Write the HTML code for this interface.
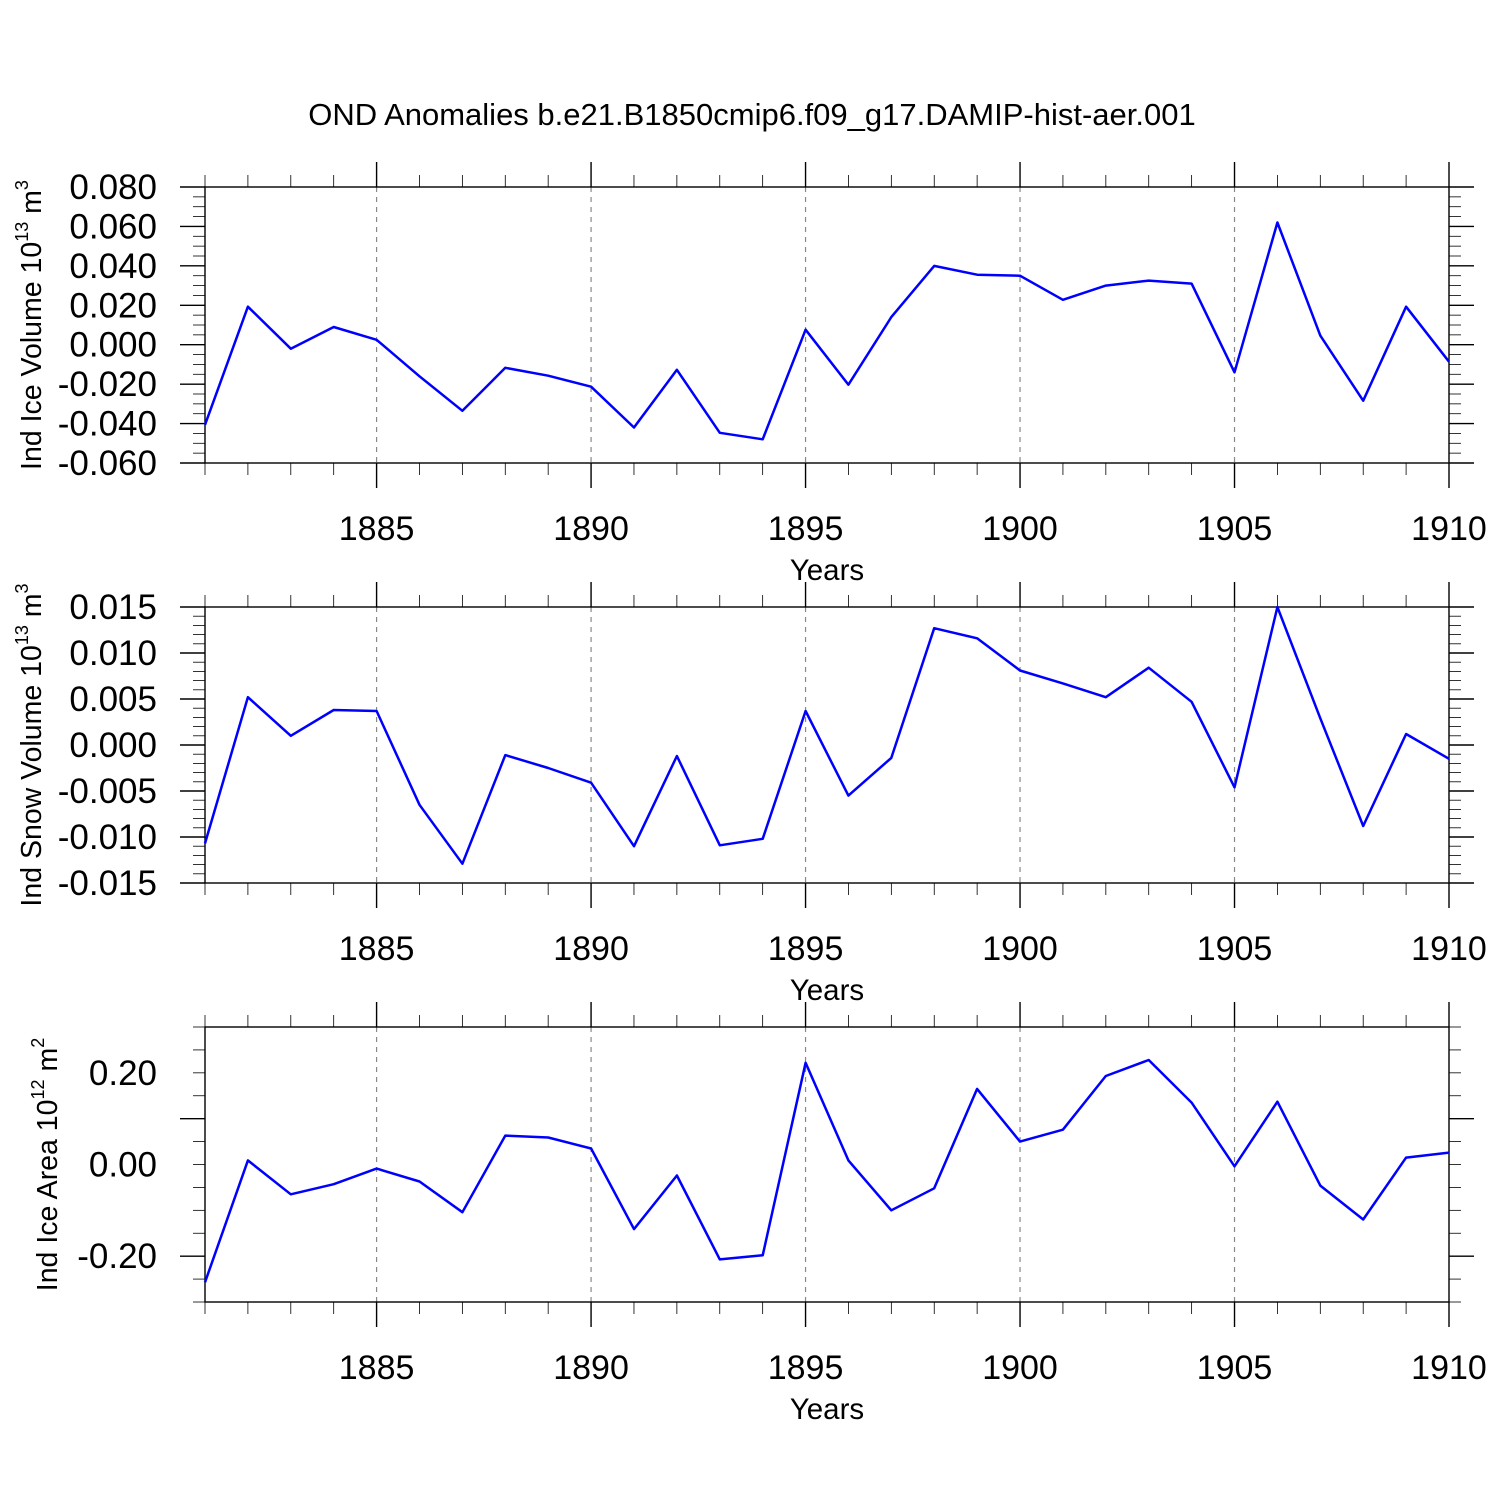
<!DOCTYPE html>
<html><head><meta charset="utf-8"><style>
body{margin:0;background:#fff}
svg{display:block;font-family:"Liberation Sans",Arial,sans-serif}
</style></head><body>
<svg id="c" width="1500" height="1500" viewBox="0 0 1500 1500" xmlns="http://www.w3.org/2000/svg">
<text x="752" y="125" font-size="31" text-anchor="middle">OND Anomalies b.e21.B1850cmip6.f09_g17.DAMIP-hist-aer.001</text>
</svg>
<script>
const years = [1881,1882,1883,1884,1885,1886,1887,1888,1889,1890,1891,1892,1893,1894,1895,1896,1897,1898,1899,1900,1901,1902,1903,1904,1905,1906,1907,1908,1909,1910];
const iceVolume = [-0.0406,0.0193,-0.002,0.009,0.0025,-0.016,-0.0335,-0.0117,-0.0157,-0.0213,-0.042,-0.0127,-0.0447,-0.048,0.0076,-0.0203,0.014,0.040,0.0355,0.035,0.0228,0.030,0.0325,0.031,-0.014,0.062,0.0046,-0.0284,0.0193,-0.0086];
const snowVolume = [-0.0107,0.0052,0.001,0.0038,0.0037,-0.0065,-0.0129,-0.0011,-0.0025,-0.0041,-0.011,-0.0012,-0.0109,-0.0102,0.0037,-0.0055,-0.0014,0.0127,0.0116,0.0081,0.0067,0.0052,0.0084,0.0047,-0.0046,0.015,0.0029,-0.0088,0.0012,-0.0015];
const iceArea = [-0.257,0.009,-0.065,-0.043,-0.009,-0.037,-0.104,0.063,0.059,0.035,-0.141,-0.024,-0.207,-0.198,0.222,0.009,-0.1,-0.052,0.165,0.05,0.076,0.193,0.228,0.135,-0.004,0.137,-0.046,-0.12,0.015,0.026];
const xTickYears = [1885,1890,1895,1900,1905,1910];
const iceVolTicks = ["0.080","0.060","0.040","0.020","0.000","-0.020","-0.040","-0.060"];
const snowVolTicks = ["0.015","0.010","0.005","0.000","-0.005","-0.010","-0.015"];
const iceAreaTicks = ["0.20","0.00","-0.20"];

const svg = document.getElementById('c');
const NS = 'http://www.w3.org/2000/svg';
function mk(tag, attrs, parent){const e=document.createElementNS(NS,tag);for(const k in attrs)e.setAttribute(k,attrs[k]);(parent||svg).appendChild(e);return e;}
const L=205,R=1449;
const xs = y => L + (y-1881)*(R-L)/(1910-1881);

function panel(name, top, bot, ymin, ymax, labels, minorStep, data, title, exp, unitExp, titleX){
  const g = mk('g',{});
  
  
  const ys = v => bot - (v-ymin)*(bot-top)/(ymax-ymin);
  xTickYears.forEach(y=>{ if(y<1910){ const l=mk('line',{x1:xs(y),x2:xs(y),y1:top,y2:bot,stroke:'#888','stroke-width':1.2,'stroke-dasharray':'5,5'},g);
    
    }});
  for(let y=1881;y<=1910;y++){
    const maj = y%5===0; const len = maj?25:12;
    mk('line',{x1:xs(y),x2:xs(y),y1:top-len,y2:top,stroke:'#000','stroke-width':maj?1.4:0.8},g);
    mk('line',{x1:xs(y),x2:xs(y),y1:bot,y2:bot+len,stroke:'#000','stroke-width':maj?1.4:0.8},g);
  }
  const nMin = Math.round((ymax-ymin)/minorStep);
  const majStep = (ymax-ymin)/(labels.length-1);
  const y0 = parseFloat(labels[labels.length-1]);
  for(let i=0;i<=nMin;i++){
    const v = ymin + i*minorStep;
    const rel = (v - y0)/majStep;
    const maj = Math.abs(rel-Math.round(rel))<1e-6;
    const len = maj?25:12;
    mk('line',{x1:L-len,x2:L,y1:ys(v),y2:ys(v),stroke:'#000','stroke-width':maj?1.4:0.8},g);
    mk('line',{x1:R,x2:R+len,y1:ys(v),y2:ys(v),stroke:'#000','stroke-width':maj?1.4:0.8},g);
  }
  labels.forEach(s=>{
    const t=mk('text',{x:157,y:ys(parseFloat(s))+12,'font-size':35,'text-anchor':'end'},g);
    t.textContent=s;
    
    
  });
  xTickYears.forEach(y=>{
    const t=mk('text',{x:xs(y),y:bot+77,'font-size':34,'text-anchor':'middle'},g);
    t.textContent=y;
    
    
  });
  const xt=mk('text',{x:827,y:bot+117,'font-size':29.5,'text-anchor':'middle'},g);
  xt.textContent='Years';
  
  
  const b=mk('rect',{x:L,y:top,width:R-L,height:bot-top,fill:'none',stroke:'#000','stroke-width':1.4},g);
  
  
  const pts = data.map((v,i)=>xs(years[i]).toFixed(1)+','+ys(v).toFixed(1)).join(' ');
  const pl=mk('polyline',{points:pts,fill:'none',stroke:'#0000ff','stroke-width':2.5,'stroke-linejoin':'round'},g);
  
  
  const cy=(top+bot)/2;
  const yt=mk('text',{x:titleX,y:cy,'font-size':28.5,'text-anchor':'middle',transform:`rotate(-90 ${titleX} ${cy})`},g);
  
  
  yt.innerHTML = title+' 10<tspan dy="-13" font-size="18">'+exp+'</tspan><tspan dy="13"> m</tspan><tspan dy="-13" font-size="18">'+unitExp+'</tspan>';
}
panel('ice-volume',187,463,-0.06,0.08,iceVolTicks,0.005,iceVolume,'Ind Ice Volume','13','3',41);
panel('snow-volume',607,883,-0.015,0.015,snowVolTicks,0.001,snowVolume,'Ind Snow Volume','13','3',41);
panel('ice-area',1027,1302,-0.3,0.3,iceAreaTicks,0.05,iceArea,'Ind Ice Area','12','2',57);
</script>
</body></html>
